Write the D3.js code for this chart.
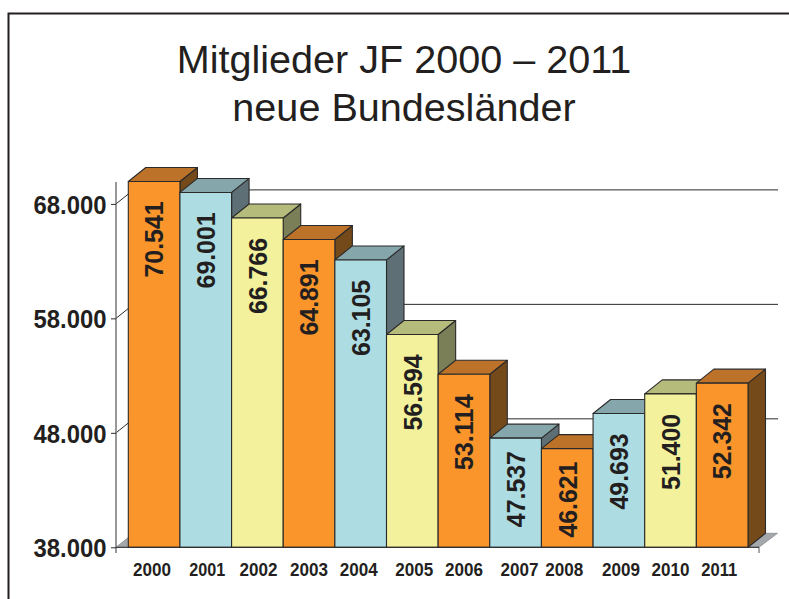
<!DOCTYPE html>
<html><head><meta charset="utf-8">
<script src="https://cdn.jsdelivr.net/npm/d3@7"></script>
<style>html,body{margin:0;padding:0;background:#fff}svg{display:block}text{font-family:"Liberation Sans",Arial,sans-serif;fill:#231f20}</style>
</head><body><svg id="c" width="789" height="599"></svg>
<script>
const years = ["2000","2001","2002","2003","2004","2005","2006","2007","2008","2009","2010","2011"];
const labelValues = [70541,69001,66766,64891,63105,56594,53114,47537,46621,49693,51400,52342];
// Heights as drawn in the picture (the 2000 bar is drawn shorter than its label says)
const drawnValues = [69960,69001,66766,64891,63105,56594,53114,47537,46621,49693,51400,52342];
const yTicks = [38000,48000,58000,68000];
const titleLines = ["Mitglieder JF 2000 – 2011","neue Bundesländer"];
const barTones = ["orange","blue","yellow","orange","blue","yellow","orange","blue","orange","blue","yellow","orange"];

const palette = {
  orange:{front:"#f9952b",top:"#bc7228",side:"#754a1b"},
  blue:{front:"#addde3",top:"#85a6aa",side:"#5e6f75"},
  yellow:{front:"#f3f19b",top:"#b5bb7a",side:"#7a7f58"}
};
const labelNudge = [-2,1.5,1,0,-2,2,0,4,-3,2,0,-3];
const dx = 17.5, dy = -14, ink = "#2b2a2a";

const svg = d3.select("#c");
const y = d3.scaleLinear().domain([38000,68000]).range([547.3,203.9]);
const x = d3.scaleBand().domain(years).range([128.3,748]);
const fmt = v => d3.format(",")(v).replace(/,/g,".");

// frame
svg.append("path").attr("d","M8.5 599V13.5H789").attr("fill","none").attr("stroke","#231f20").attr("stroke-width",2);

// title
svg.selectAll("text.title").data(titleLines).join("text").attr("class","title")
  .attr("x",404).attr("y",(d,i)=>73+i*48).attr("text-anchor","middle")
  .attr("font-size",39.6).text(d=>d);

// floor
const base = y(38000), ax = 116, axR = 759;
svg.append("polygon").attr("points",[[ax,base],[axR,base],[axR+dx+1,base+dy],[ax+dx,base+dy]].join(" "))
  .attr("fill","#a4a7ab").attr("stroke","#77797c").attr("stroke-width",.6);

// back grid lines and slanted ticks
yTicks.slice(1).forEach(t=>{
  svg.append("line").attr("x1",ax+dx).attr("x2",778).attr("y1",y(t)+dy).attr("y2",y(t)+dy).attr("stroke",ink).attr("stroke-width",1);
  svg.append("line").attr("x1",ax).attr("x2",ax+dx).attr("y1",y(t)).attr("y2",y(t)+dy).attr("stroke",ink).attr("stroke-width",1);
});

// y axis
svg.append("line").attr("x1",ax).attr("x2",ax).attr("y1",182).attr("y2",553).attr("stroke","#6d6e70").attr("stroke-width",1.4);
const gy = svg.append("g").attr("transform",`translate(${ax},0)`)
  .call(d3.axisLeft(y).tickValues(yTicks).tickFormat(fmt).tickSize(5).tickPadding(4.5));
gy.select(".domain").remove();
gy.selectAll("line").attr("stroke",ink);
gy.selectAll("text").attr("font-size",25.5).attr("font-weight","bold").attr("font-family","'Liberation Sans'").attr("fill","#231f20").attr("dy","0.36em")
  .attr("textLength",73).attr("lengthAdjust","spacingAndGlyphs");

// bars
const bars = svg.selectAll("g.bar").data(years).join("g").attr("class","bar");
bars.each(function(yr,i){
  const g = d3.select(this), c = palette[barTones[i]];
  const x0 = x(yr), x1 = x0 + x.bandwidth(), t = y(drawnValues[i]);
  const poly = (pts,fill)=>g.append("polygon").attr("points",pts.join(" ")).attr("fill",fill)
    .attr("stroke",ink).attr("stroke-width",1.1).attr("stroke-linejoin","round");
  poly([[x1,t],[x1+dx,t+dy],[x1+dx,base+dy],[x1,base]],c.side);
  poly([[x0,t],[x0+dx,t+dy],[x1+dx,t+dy],[x1,t]],c.top);
  poly([[x0,t],[x1,t],[x1,base],[x0,base]],c.front);
  const ly = t + (base - t < 115 ? 89 : 96);
  g.append("text").attr("transform",`translate(${(x0+x1)/2+9.3},${ly}) rotate(-90)`)
    .attr("font-size",26).attr("font-weight","bold")
    .attr("textLength",76).attr("lengthAdjust","spacingAndGlyphs").text(fmt(labelValues[i]));
});

// baseline and end tick
svg.append("line").attr("x1",ax).attr("x2",axR).attr("y1",base).attr("y2",base).attr("stroke",ink).attr("stroke-width",1);
svg.append("line").attr("x1",axR).attr("x2",axR).attr("y1",base).attr("y2",553).attr("stroke",ink).attr("stroke-width",.8);

// x labels
svg.selectAll("text.yr").data(years).join("text").attr("class","yr")
  .attr("x",(d,i)=>x(d)+x.bandwidth()/2+labelNudge[i]).attr("y",575.5).attr("text-anchor","middle")
  .attr("font-size",17.6).attr("font-weight","bold")
  .attr("textLength",(d,i)=>i===1||i===11?36:38).attr("lengthAdjust","spacingAndGlyphs").text(d=>d);
</script></body></html>
